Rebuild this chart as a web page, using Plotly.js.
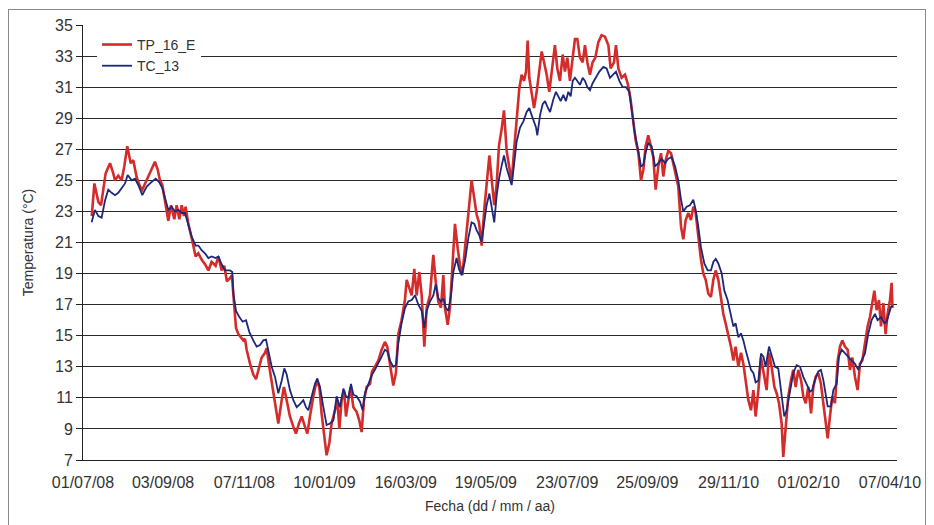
<!DOCTYPE html>
<html>
<head>
<meta charset="utf-8">
<script src="https://cdn.plot.ly/plotly-3.0.1.min.js"></script>
<style>
  html, body { margin: 0; padding: 0; background: #fff; }
  #wrap { position: relative; width: 934px; height: 525px; overflow: hidden; }
  #chart { position: absolute; left: 0; top: 0; width: 934px; height: 525px; }
  #frame { position: absolute; left: 8px; top: 9px; width: 916px; height: 530px;
           border: 1.5px solid #8a8a8a; pointer-events: none; }
</style>
</head>
<body>
<div id="wrap">
  <div id="chart"></div>
  <div id="frame"></div>
</div>
<script>
// Días transcurridos desde el 01/07/08 y temperatura (°C)
const inicio = '2008-07-01';

const diasTP = [7,9.1,12.3,14.4,18.1,21.6,24.2,25.6,28.2,30.9,
33,35.4,38.1,40.2,42.9,45.6,47.4,50.9,54.9,57.5,
59.7,61.5,63.4,66.9,68.2,70.3,73,74.9,77,78.9,
80.7,82,84.2,87.4,90,92.2,94.8,97.5,100.2,102.8,
106,108.2,110.8,112.9,115,117.5,119,120.7,122.3,124.2,
126,128.1,129.5,130.8,133.5,136.1,138.3,140.1,142.8,145.5,
146.8,148.9,150.8,152.7,154.8,156.1,158.8,160.6,162.8,165.4,
168.1,170.2,172.6,174.8,177.4,179.3,181.4,184.1,186.8,188.9,
190.7,192.6,194.7,196.9,198.7,201.4,203.3,204.9,206.7,208.6,
210.2,212.1,213.9,216.1,218.7,220.8,222.7,224.6,226.7,229.4,
231,233.3,236,238.7,241.3,243.2,245.3,248,250.1,252,
254.6,257.3,258.7,260.6,262.7,264.8,266.7,268.8,270.7,272.8,
274.7,277.3,280,281.9,284,286.1,288,289.3,291.5,293.3,
295.2,297.3,299.5,301.3,303.2,305.3,308,310.6,312.8,314.6,
316.5,318.6,320.8,322.6,324.8,326.6,328.7,330.6,332.5,334.6,
336.5,338.6,340.8,342.6,344.5,346.6,348.7,350.6,352.5,354.1,
355.4,356.7,358.6,360.5,362.6,364.7,366.6,368.5,370.6,372.7,
374.6,377.2,379.1,381.2,383.4,385.2,387.1,389.2,391.4,393.2,
395.1,397.2,399.4,401.2,403.1,405.2,407.3,409.5,411.9,414.5,
417.2,419.9,421.7,424.4,426,427.9,430.5,433.2,435.5,437.5,
439.5,441.7,443.9,446,447.9,449.7,451.8,454,455.8,457.7,
459.8,462,463.8,465.7,467.8,470,471.8,473.7,475.8,478,
479.8,481.7,483.8,485.9,487.8,489.7,491.8,493.9,495.8,497.7,
499.8,501.9,503.8,505.7,507.8,509.9,511.8,513.6,515.8,517.9,
519.8,521.6,523.8,525.9,527.8,529.6,531.8,533.9,535.8,537.6,
539.8,541.9,544,546.4,548.3,550.4,552.6,554.4,556.3,558.4,
559.7,561.6,563.7,565.9,567.7,569.6,571.7,573.9,575.7,577.6,
579.7,581.9,583.7,585.6,587.7,589.8,591.7,593.6,595.2,597,
598.9,601,603.2,605,606.9,609,611.2,613,614.9,617,
619.1,621,622.9,625,627.1,629,630.9,632.5,634.3,636.2,
637.8,639.7,641.5,643.1,645,646.3,647];

const tempTP = [22.7,24.8,23.6,23.4,25.45,26.1,25.45,25.0,25.3,25.0,
25.9,27.2,26.1,26.3,25.2,24.6,24.4,25.0,25.7,26.2,
25.7,25.0,24.7,23.1,22.4,23.4,22.5,23.4,22.5,23.4,
22.7,23.3,22.2,21.1,20.1,20.3,19.9,19.6,19.2,19.75,
19.5,20.1,19.2,19.5,18.5,18.7,18.9,17.1,15.5,15.1,
14.9,14.7,14.8,14.1,13.2,12.5,12.2,12.8,13.6,13.9,
14.2,13.0,12.1,11.2,10.0,9.35,10.85,11.7,10.85,9.8,
9.15,8.7,9.35,9.8,9.15,8.7,9.8,11.1,12.1,11.7,
10.0,8.5,7.3,8.1,9.35,10.2,10.85,9.0,10.85,11.5,
9.8,10.85,11.7,10.4,10.1,9.55,8.8,10.85,11.7,11.9,
12.7,13.0,13.4,14.1,14.6,14.3,13.2,11.8,12.6,15.1,
16.0,17.3,18.6,18.1,17.6,19.3,17.6,19.1,17.6,14.3,
16.8,17.6,20.2,18.5,17.2,16.8,18.9,16.8,15.7,16.8,
19.1,22.2,20.6,19.55,18.9,20.6,23.2,25.0,23.8,22.8,
22.3,20.8,23.2,24.9,26.6,25.1,23.4,24.7,27.25,28.3,
29.5,26.9,25.8,24.9,26.9,29.2,30.9,31.8,31.4,32.0,
34.0,31.6,30.7,29.65,30.7,32.2,33.3,32.6,31.8,30.7,
32.0,33.7,32.2,31.4,33.1,32.0,32.9,31.4,32.9,34.1,
34.1,32.9,32.6,33.7,32.6,31.8,32.6,32.9,33.9,34.35,
34.25,33.7,32.2,32.6,33.7,32.2,31.6,31.8,31.2,30.3,
29.0,27.6,26.75,25.0,25.7,27.2,27.9,27.2,26.5,24.4,
25.9,26.75,25.25,26.3,26.9,26.75,26.1,25.45,24.6,22.0,
21.2,22.45,22.9,22.45,23.3,22.9,21.2,19.9,19.0,18.6,
17.7,17.5,18.6,19.2,18.6,17.5,16.4,15.8,15.1,14.3,
13.4,14.3,13.0,13.9,13.2,12.1,10.85,10.2,11.5,9.8,
11.5,13.6,12.5,11.5,13.9,13.0,11.7,11.3,10.65,9.35,
7.2,9.15,11.1,12.15,12.8,11.7,12.8,12.15,11.1,10.65,
11.7,10.0,11.7,12.35,12.6,11.9,10.65,9.35,8.4,9.8,
11.1,10.65,13.4,14.3,14.7,14.3,14.1,12.8,13.6,12.35,
11.5,13.2,13.4,14.5,15.6,16.2,17.3,17.9,16.65,17.3,
15.6,17.1,15.1,16.4,17.3,18.4,16.8];

const diasTC = [6.9,9.6,12.3,14.9,17.6,20.2,22.9,25.6,28.2,30.9,
33.6,35.7,38.9,41.6,44.2,47.4,50.9,54.9,58.1,60.7,
63.4,66.1,68.2,70.9,73.5,76.2,78.9,81.5,84.2,86.8,
90,92.2,94.8,97.5,100.2,102.8,106,108.2,110.8,113.5,
117.5,119.3,120.2,122.3,125,127.6,130.3,132.9,136.1,138.8,
141.5,144.1,146.3,148.1,150.8,153.5,156.1,158.8,160.9,162.8,
165.4,168.1,170.8,173.4,176.1,178.2,180.1,182.8,185.4,187.3,
189.4,192.1,194.7,197.4,200.1,202.7,205.4,208.1,210.2,212.1,
214.2,216.1,218.7,221.4,223.5,225.4,228,230.7,233.3,236,
238.7,241.3,243.2,245.3,248,250.1,252,254.6,257.4,260,
262.7,265.4,268,270.7,272.8,274.7,277.3,280,281.9,284,
286.1,288,289.9,292,294.1,296,298.6,300.5,302.6,305.3,
308,310.6,312.8,314.6,316.5,318.6,320.8,322.6,324.8,326.6,
328.7,330.6,332.5,334.6,336.5,338.6,340.8,342.6,344.5,346.6,
349.3,352,354.6,356.7,358.6,360.5,362.1,363.1,365.3,367.4,
369.3,371.1,373.3,375.9,378,379.9,381.8,383.9,386,387.9,
389.8,391.4,393.2,395.1,397.2,399.4,401.2,403.1,405.2,407.3,
410,412.7,415.9,418.5,421.2,423.3,426,428.7,431.3,434,
436.6,438.5,440.7,443.3,446,447.9,449.7,451.8,454.5,457.2,
459.8,462.5,465.2,467.8,470.5,473.2,475.8,478,479.8,482.5,
485.1,487.8,489.7,491.8,493.9,496.6,499.3,501.9,503.8,505.7,
507.8,510.5,512.6,515.2,517.9,519.8,521.6,523.8,525.9,527.8,
529.6,531.8,533.9,535.8,537.6,539.8,541.9,543.8,545.6,548.3,
550.4,553.1,555.7,557.9,560.5,562.4,565.1,567.7,570.4,573.1,
575.7,578.4,581.1,582.9,585,587.7,589.8,591.7,593.6,595.2,
597.8,599.7,602.4,604.2,606.4,609,611.7,614.4,617,619.7,
622.3,625,627.7,630.3,633,635.1,637.8,640.5,642.3,644.2,
645.8,647.3];

const tempTC = [22.3,23.1,22.7,22.6,23.7,24.4,24.2,24.05,24.2,24.5,
24.8,25.35,25.0,25.1,24.7,24.05,24.6,24.9,25.1,24.9,
24.5,23.7,23.1,23.3,23.0,23.1,22.9,22.9,22.1,21.4,
20.8,20.8,20.5,20.3,20.0,20.1,20.0,20.1,19.6,19.2,
19.2,19.1,17.7,16.6,16.2,15.9,16.0,15.25,14.7,14.3,
14.4,14.7,14.75,14.1,13.0,12.35,11.3,12.1,12.9,12.5,
11.5,10.85,10.4,10.6,10.85,10.4,10.2,11.1,11.9,12.25,
11.7,10.4,9.25,9.35,9.55,11.1,10.4,11.6,11.1,11.0,
11.9,11.2,11.1,10.75,10.2,11.3,11.9,12.45,12.8,13.2,
13.65,14.1,14.0,13.4,13.0,13.1,14.5,15.8,16.8,17.2,
17.3,17.6,17.0,16.6,15.5,16.6,17.2,17.6,18.3,17.4,
17.2,17.4,16.8,16.6,17.6,19.1,20.0,19.3,18.9,19.8,
21.3,22.3,22.2,21.8,21.5,21.05,22.3,23.4,24.15,23.4,
22.3,24.0,25.1,25.95,26.6,25.8,25.25,24.7,26.0,27.5,
28.4,28.8,29.4,29.65,29.2,28.8,28.4,27.9,29.2,29.9,
30.1,29.75,29.4,30.2,30.7,30.4,30.1,30.5,30.1,30.7,
30.4,31.4,31.6,31.4,31.15,31.6,31.4,31.0,30.8,31.25,
31.6,32.0,32.3,32.2,31.6,31.8,32.0,31.4,31.0,31.0,
30.7,29.6,28.2,27.1,25.9,26.0,26.8,27.4,27.2,25.9,
26.1,26.4,26.1,26.4,26.5,25.9,25.0,23.75,23.0,23.3,
23.4,23.75,23.1,22.0,20.7,19.65,19.2,19.2,19.75,19.95,
19.65,19.0,17.9,17.3,16.4,15.6,15.8,14.9,15.15,14.7,
14.1,13.4,12.8,12.6,12.0,12.1,13.85,13.65,13.0,14.3,
13.65,13.0,12.9,11.5,9.8,10.2,11.5,12.6,13.1,13.0,
12.35,11.9,11.4,11.5,12.15,12.7,12.8,12.15,11.1,10.45,
10.45,11.5,11.9,13.65,14.1,13.85,13.65,13.4,13.2,12.8,
13.4,13.85,15.15,16.0,16.4,16.0,16.2,15.8,15.9,16.4,
16.85,16.9];

const fechasTicks = ['2008-07-01','2008-09-03','2008-11-07','2009-01-10','2009-03-16',
  '2009-05-19','2009-07-23','2009-09-25','2009-11-29','2010-02-01','2010-04-07'];
const etiquetasTicks = ['01/07/08','03/09/08','07/11/08','10/01/09','16/03/09',
  '19/05/09','23/07/09','25/09/09','29/11/10','01/02/10','07/04/10'];
const diaFinalEje = 650.6;

function aFecha(d) {
  const ms = Date.parse(inicio + 'T00:00:00Z') + d * 86400000;
  return new Date(ms).toISOString().slice(0, 19).replace('T', ' ');
}

const font = "'Liberation Sans', Arial, sans-serif";

const traces = [
  {
    x: diasTP.map(aFecha), y: tempTP, name: 'TP_16_E', type: 'scatter', mode: 'lines',
    line: { color: '#d42b2b', width: 2.6 }
  },
  {
    x: diasTC.map(aFecha), y: tempTC, name: 'TC_13', type: 'scatter', mode: 'lines',
    line: { color: '#1e2878', width: 1.8 }
  }
];

const layout = {
  width: 934, height: 525,
  margin: { l: 83, r: 37, t: 25, b: 65 },
  paper_bgcolor: '#fff', plot_bgcolor: '#fff',
  font: { family: font, color: '#333', size: 16 },
  showlegend: true,
  legend: {
    x: 0.0172, y: 0.991, xanchor: 'left', yanchor: 'top',
    bgcolor: '#fff', borderwidth: 0,
    font: { family: font, size: 14, color: '#333' },
    tracegroupgap: 0, itemwidth: 30
  },
  xaxis: {
    type: 'date',
    range: [aFecha(0), aFecha(diaFinalEje)],
    tickmode: 'array', tickvals: fechasTicks, ticktext: etiquetasTicks,
    showgrid: false, zeroline: false,
    showline: true, linecolor: '#222', linewidth: 1,
    ticks: '', ticklabelstandoff: 8,
    tickfont: { size: 16, color: '#333' },
    title: { text: 'Fecha (dd / mm / aa)', font: { size: 14, color: '#333' }, standoff: 10 },
    fixedrange: true
  },
  yaxis: {
    range: [7, 35], tickmode: 'linear', tick0: 7, dtick: 2,
    showgrid: true, gridcolor: '#2a2a2a', gridwidth: 1,
    zeroline: false,
    showline: true, linecolor: '#222', linewidth: 1,
    ticks: 'outside', ticklen: 6, tickcolor: '#222',
    tickfont: { size: 16, color: '#333' },
    title: { text: 'Temperatura (°C)', font: { size: 14, color: '#333' }, standoff: 18 },
    fixedrange: true
  }
};

Plotly.newPlot('chart', traces, layout, { displayModeBar: false, staticPlot: true });
</script>
</body>
</html>
